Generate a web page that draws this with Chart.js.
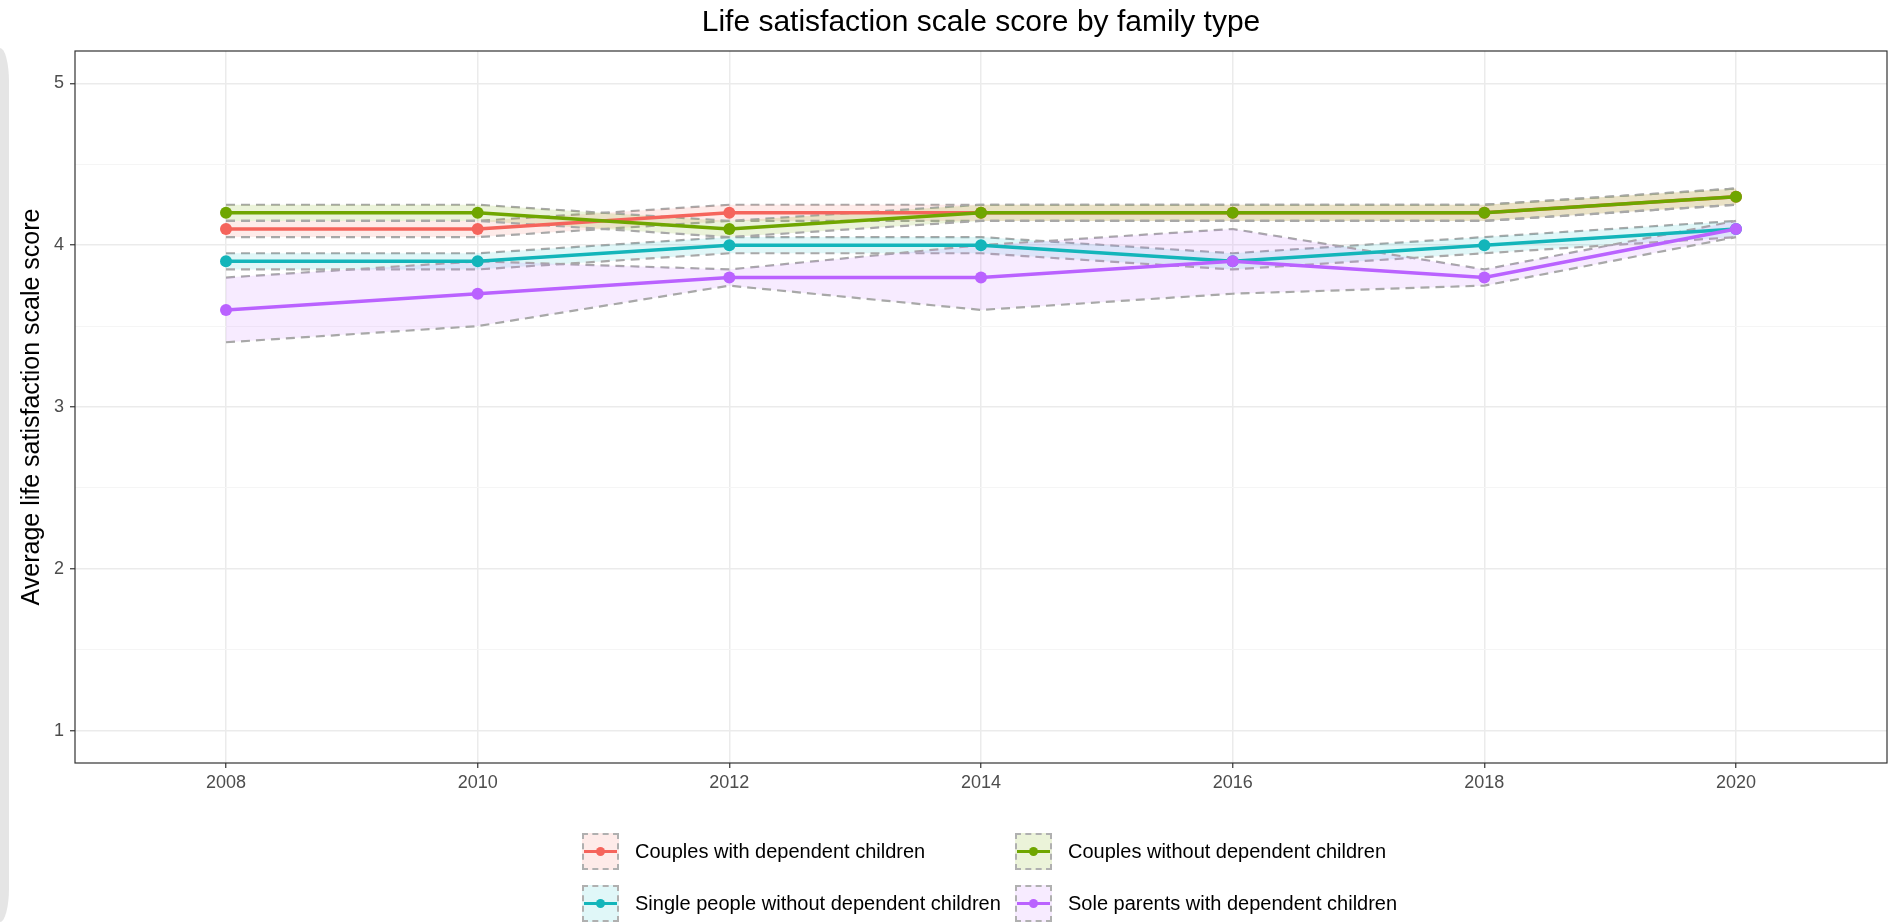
<!DOCTYPE html>
<html>
<head>
<meta charset="utf-8">
<title>Life satisfaction scale score by family type</title>
<script src="https://cdn.jsdelivr.net/npm/chart.js@4.4.1/dist/chart.umd.min.js"></script>
<style>
  html, body { margin: 0; padding: 0; background: #fff; }
  body {
    width: 1893px; height: 922px; position: relative; overflow: hidden;
    font-family: "Liberation Sans", Arial, Helvetica, sans-serif;
  }
  #chart { position: absolute; left: 0; top: 0; }
  .sidebar {
    position: absolute; left: 0; top: 48px; width: 9px; height: 874px;
    background: #e5e5e5; border-radius: 0 9px 9px 0 / 0 34px 34px 0;
  }
  #legend {
    position: absolute; left: 582px; top: 833px;
    display: grid; grid-template-columns: 433px auto; row-gap: 15px;
  }
  .item { display: flex; align-items: center; height: 37px; }
  .key {
    position: relative; width: 33px; height: 33px; margin-right: 16px;
    border: 2px dashed #b0b0b0;
  }
  .key .ln { position: absolute; left: 0; right: 0; top: 15px; height: 3px; }
  .key .pt { position: absolute; left: 12px; top: 12px; width: 9px; height: 9px; border-radius: 50%; }
  .label { font-size: 20px; color: #000; white-space: nowrap; }
</style>
</head>
<body>
<div class="sidebar"></div>
<canvas id="chart" width="1893" height="922"></canvas>
<div id="legend"></div>
<script>
// --- DATOS ---
const years = [2008, 2010, 2012, 2014, 2016, 2018, 2020];
const yTicks = [1, 1.5, 2, 2.5, 3, 3.5, 4, 4.5, 5];

const seriesNames = [
    'Couples with dependent children',
    'Couples without dependent children',
    'Single people without dependent children',
    'Sole parents with dependent children'
];
const seriesColors = ['#F5645C', '#6FA600', '#13B5BA', '#BA62FF'];
const ribbonColors = [
    'rgba(248,118,109,0.15)',
    'rgba(124,174,0,0.15)',
    'rgba(0,191,196,0.12)',
    'rgba(199,124,255,0.15)'
];

// medias
const couplesKids     = [4.1, 4.1, 4.2, 4.2, 4.2, 4.2, 4.3];
const couplesNoKids   = [4.2, 4.2, 4.1, 4.2, 4.2, 4.2, 4.3];
const singleNoKids    = [3.9, 3.9, 4.0, 4.0, 3.9, 4.0, 4.1];
const soleParentsKids = [3.6, 3.7, 3.8, 3.8, 3.9, 3.8, 4.1];

// intervalos (inferior / superior)
const couplesKidsLo     = [4.05, 4.05, 4.15, 4.15, 4.15, 4.15, 4.25];
const couplesKidsHi     = [4.15, 4.15, 4.25, 4.25, 4.25, 4.25, 4.35];
const couplesNoKidsLo   = [4.15, 4.15, 4.05, 4.15, 4.15, 4.15, 4.25];
const couplesNoKidsHi   = [4.25, 4.25, 4.15, 4.25, 4.25, 4.25, 4.35];
const singleNoKidsLo    = [3.85, 3.85, 3.95, 3.95, 3.85, 3.95, 4.05];
const singleNoKidsHi    = [3.95, 3.95, 4.05, 4.05, 3.95, 4.05, 4.15];
const soleParentsKidsLo = [3.40, 3.50, 3.75, 3.60, 3.70, 3.75, 4.05];
const soleParentsKidsHi = [3.80, 3.90, 3.85, 4.00, 4.10, 3.85, 4.15];

const means = [couplesKids, couplesNoKids, singleNoKids, soleParentsKids];
const lows  = [couplesKidsLo, couplesNoKidsLo, singleNoKidsLo, soleParentsKidsLo];
const highs = [couplesKidsHi, couplesNoKidsHi, singleNoKidsHi, soleParentsKidsHi];

const FONT = '"Liberation Sans", Arial, Helvetica, sans-serif';
const toPoints = arr => arr.map((v, i) => ({ x: years[i], y: v }));

// --- DATASETS ---
// orden de dibujo: bandas primero, luego líneas (la última encima)
const datasets = [];
let seq = 0;
means.forEach((m, i) => {
    datasets.push({
        label: seriesNames[i] + ' (upper)',
        data: toPoints(highs[i]),
        borderColor: '#a8a8a8',
        borderWidth: 2.2,
        borderDash: [9, 6],
        pointRadius: 0,
        fill: false,
        order: 1000 - seq++
    });
    datasets.push({
        label: seriesNames[i] + ' (lower)',
        data: toPoints(lows[i]),
        borderColor: '#a8a8a8',
        borderWidth: 2.2,
        borderDash: [9, 6],
        pointRadius: 0,
        backgroundColor: ribbonColors[i],
        fill: '-1',
        order: 1000 - seq++
    });
});
means.forEach((m, i) => {
    datasets.push({
        label: seriesNames[i],
        data: toPoints(m),
        borderColor: seriesColors[i],
        backgroundColor: seriesColors[i],
        borderWidth: 3.5,
        pointRadius: 6,
        pointBorderWidth: 0,
        pointBackgroundColor: seriesColors[i],
        fill: false,
        order: 1000 - seq++
    });
});

// borde del panel
const panelBorder = {
    id: 'panelBorder',
    afterDatasetsDraw(chart) {
        const { ctx, chartArea: a } = chart;
        ctx.save();
        ctx.strokeStyle = '#333333';
        ctx.lineWidth = 1.2;
        ctx.strokeRect(a.left, a.top, a.right - a.left, a.bottom - a.top);
        ctx.restore();
    }
};

const isMajor = v => Number.isInteger(v);

const chart = new Chart(document.getElementById('chart').getContext('2d'), {
    type: 'line',
    data: { datasets },
    options: {
        responsive: false,
        animation: false,
        layout: { padding: { left: 0, right: 2, top: 0, bottom: 119 } },
        plugins: {
            legend: { display: false },
            tooltip: { enabled: false },
            title: {
                display: true,
                fullSize: false,
                text: 'Life satisfaction scale score by family type',
                color: '#000',
                font: { size: 30, family: FONT, weight: 'normal' },
                padding: { top: 5, bottom: 10 }
            }
        },
        scales: {
            x: {
                type: 'linear',
                min: 2006.8,
                max: 2021.2,
                afterBuildTicks: s => { s.ticks = years.map(v => ({ value: v })); },
                afterFit: s => { s.height = 40; },
                ticks: {
                    callback: v => String(v),
                    color: '#4d4d4d',
                    font: { size: 18, family: FONT },
                    padding: 4,
                    maxRotation: 0
                },
                grid: {
                    color: '#ebebeb',
                    lineWidth: 1.5,
                    tickColor: '#333333',
                    tickWidth: 1.2,
                    tickLength: 5
                },
                border: { display: false }
            },
            y: {
                type: 'linear',
                min: 0.8,
                max: 5.2,
                afterBuildTicks: s => { s.ticks = yTicks.map(v => ({ value: v })); },
                afterFit: s => { s.width = 75; },
                ticks: {
                    callback: v => isMajor(v) ? String(v) : '',
                    color: '#4d4d4d',
                    font: { size: 18, family: FONT },
                    padding: 6
                },
                grid: {
                    color: c => isMajor(c.tick.value) ? '#ebebeb' : '#f5f5f5',
                    lineWidth: c => isMajor(c.tick.value) ? 1.5 : 1,
                    tickColor: c => isMajor(c.tick.value) ? '#333333' : 'rgba(0,0,0,0)',
                    tickWidth: 1.2,
                    tickLength: 5
                },
                border: { display: false },
                title: {
                    display: true,
                    text: 'Average life satisfaction scale score',
                    color: '#000',
                    font: { size: 25, family: FONT },
                    padding: { top: 17, bottom: 0 }
                }
            }
        }
    },
    plugins: [panelBorder]
});

// --- LEYENDA ---
const legend = document.getElementById('legend');
seriesNames.forEach((name, i) => {
    const item = document.createElement('div');
    item.className = 'item';
    item.innerHTML =
        '<div class="key" style="background:' + ribbonColors[i] + '">' +
        '<div class="ln" style="background:' + seriesColors[i] + '"></div>' +
        '<div class="pt" style="background:' + seriesColors[i] + '"></div></div>' +
        '<span class="label">' + name + '</span>';
    legend.appendChild(item);
});
</script>
</body>
</html>
